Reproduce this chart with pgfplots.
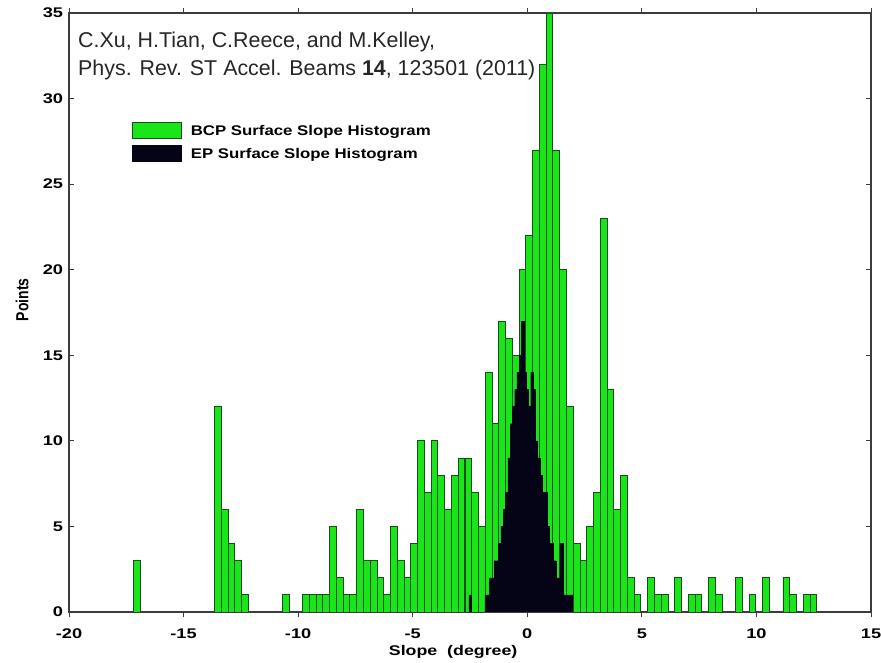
\documentclass[border=0pt]{standalone}
\usepackage{graphicx}
\usepackage{pgfplots}
\pgfplotsset{compat=1.18}
\usepackage{fontspec}
\setmainfont{Liberation Sans}

\definecolor{bcpgreen}{RGB}{24,230,24}
\definecolor{bcpedge}{RGB}{30,75,30}
\definecolor{epfill}{RGB}{4,4,22}
\definecolor{axisgray}{RGB}{60,60,60}

\begin{document}
\begin{tikzpicture}[x=1pt,y=1pt]
\useasboundingbox (0,0) rectangle (881,663);
\begin{axis}[
  at={(69pt,51pt)}, anchor=south west,
  scale only axis, width=802pt, height=599pt,
  xmin=-20, xmax=15, ymin=0, ymax=35,
  xtick={-20,-15,...,15}, ytick={0,5,...,35},
  xticklabels={-20,-15,-10,-5,0,5,10,15},
  yticklabels={0,5,10,15,20,25,30,35},
  tick align=inside, major tick length=5pt,
  axis line style={axisgray, line width=1.3pt},
  tick style={axisgray, line width=0.9pt},
  ticklabel style={font=\bfseries\fontsize{14}{16}\selectfont, xscale=1.3},
  xticklabel style={yshift=-8pt},
  yticklabel style={xshift=-1pt},
  ybar, bar width=0.2953, bar shift=0pt,
  xlabel={Slope\ \ (degree)}, ylabel={Points},
  label style={font=\bfseries\fontsize{14}{16}\selectfont},
  xlabel style={at={(axis description cs:0.479,0)}, anchor=north, yshift=-30pt, xscale=1.27},
  ylabel style={at={(axis description cs:-0.0586,0.521)}, anchor=center, yscale=1.25},
  legend style={
    at={(axis description cs:0.0786,0.818)}, anchor=north west,
    draw=none, fill=none, inner sep=0pt, outer sep=0pt,
    font=\bfseries\fontsize{14}{16}\selectfont,
    row sep=6.5pt,
    nodes={inner sep=0pt, text depth=0pt},
    /tikz/every odd column/.append style={column sep=9pt},
  },
  legend cell align=left,
  legend image code/.code={\draw[#1] (0pt,-8pt) rectangle (49pt,8pt);},
]

% BCP slope histogram (bin width about 0.295 degree)
\addplot[fill=bcpgreen, draw=bcpedge, line width=0.8pt] coordinates {
(-17.046,3)
(-13.502,12) (-13.207,6) (-12.911,4) (-12.616,3) (-12.321,1)
(-10.549,1)
(-9.663,1) (-9.368,1) (-9.072,1) (-8.777,1) (-8.482,5) (-8.186,2)
(-7.891,1) (-7.596,1) (-7.300,6) (-7.005,3) (-6.710,3) (-6.414,2)
(-6.119,1) (-5.824,5) (-5.528,3) (-5.233,2) (-4.938,4) (-4.643,10)
(-4.347,7) (-4.052,10) (-3.757,8) (-3.461,6) (-3.166,8) (-2.871,9)
(-2.575,9) (-2.280,7) (-1.985,5) (-1.689,14) (-1.394,11) (-1.099,17)
(-0.803,16) (-0.508,15) (-0.213,20) (0.083,22) (0.378,27) (0.673,32)
(0.969,35) (1.264,27) (1.559,20) (1.855,12) (2.150,4) (2.445,3)
(2.740,5) (3.036,7) (3.331,23) (3.626,13) (3.922,6) (4.217,8)
(4.512,2) (4.808,1)
(5.398,2) (5.694,1) (5.989,1)
(6.580,2)
(7.170,1) (7.466,1)
(8.056,2) (8.352,1)
(9.238,2)
(9.828,1)
(10.419,2)
(11.305,2) (11.600,1)
(12.191,1) (12.486,1)
};
\addlegendentry{\scalebox{1.2}[1]{BCP Surface Slope Histogram}}

% EP slope histogram (finer bins of 0.1 degree)
\addplot[fill=epfill, draw=epfill, line width=0.3pt, bar width=0.1] coordinates {
(-2.5,1)
(-1.8,1) (-1.7,1) (-1.6,2) (-1.5,2) (-1.4,3) (-1.3,3) (-1.2,4)
(-1.1,5) (-1.0,6) (-0.9,7) (-0.8,9) (-0.7,11) (-0.6,12) (-0.5,13)
(-0.4,14) (-0.3,15) (-0.2,17) (-0.1,14) (0.0,13) (0.1,12) (0.2,14)
(0.3,13) (0.4,10) (0.5,9) (0.6,8) (0.7,7) (0.8,7) (0.9,5)
(1.0,4) (1.1,4) (1.2,3) (1.3,2) (1.4,2) (1.5,4) (1.6,1)
(1.7,1) (1.8,1) (1.9,1)
};
\addlegendentry{\scalebox{1.2}[1]{EP Surface Slope Histogram}}

\end{axis}

% citation printed in the upper left of the frame
\node[anchor=base west, inner sep=0pt, text=black!85,
      font=\fontsize{21.4}{28}\selectfont, align=left]
  at (78,615) {C.Xu, H.Tian, C.Reece, and M.Kelley,};
\node[anchor=base west, inner sep=0pt, text=black!85,
      font=\fontsize{21.4}{28}\selectfont, align=left]
  at (78,587) {Phys. Rev. ST Accel. Beams \textbf{14}, 123501 (2011)};
\end{tikzpicture}
\end{document}
